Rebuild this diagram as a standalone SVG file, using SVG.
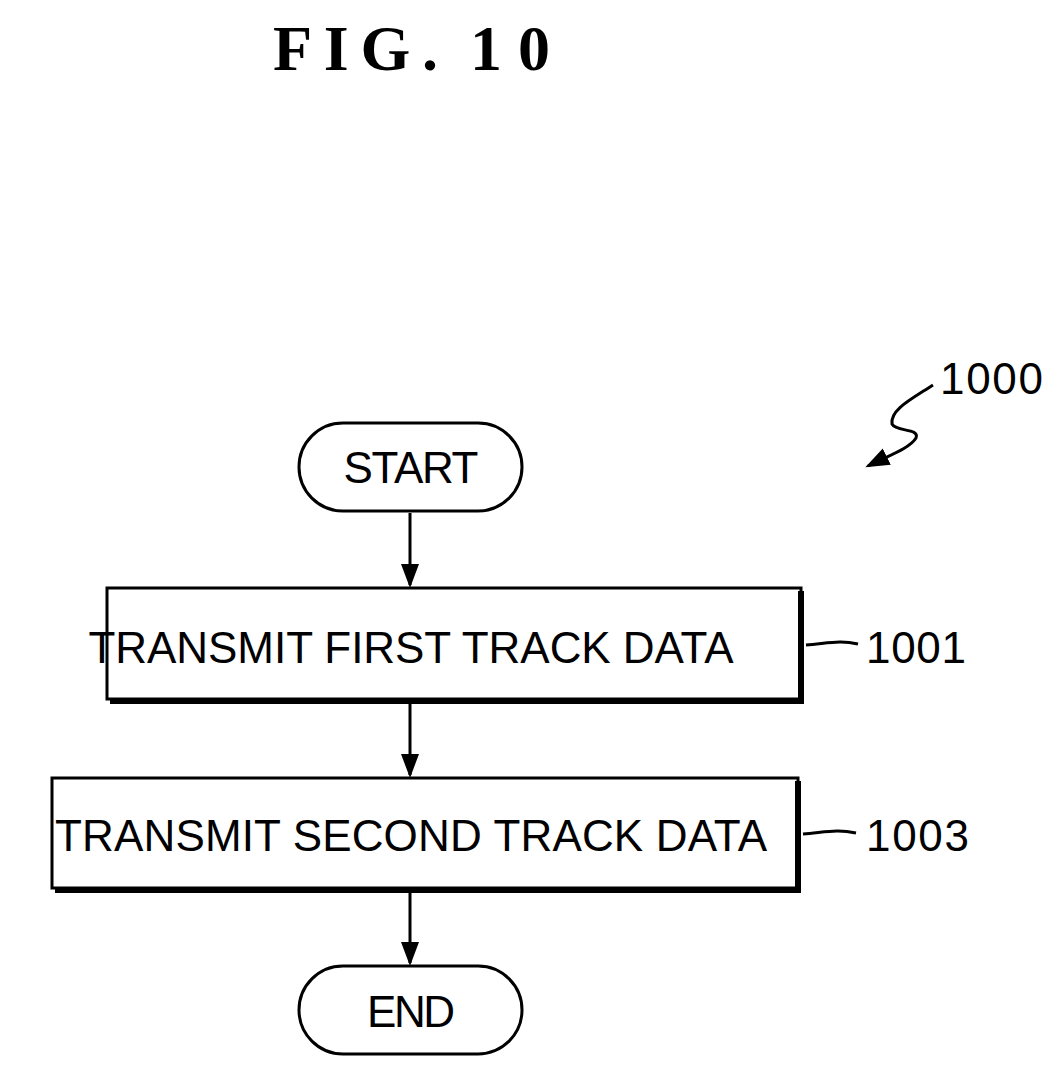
<svg xmlns="http://www.w3.org/2000/svg" width="1063" height="1082" viewBox="0 0 1063 1082">
<defs>
<style>
.b{fill:#fff;stroke:#000;stroke-width:3}
.s{fill:none;stroke:#000;stroke-width:6}
.t{font-family:"Liberation Sans",Arial,sans-serif;font-size:44px;fill:#000;text-anchor:middle}
.l{font-family:"Liberation Sans",Arial,sans-serif;font-size:44px;fill:#000}
.c{fill:none;stroke:#000;stroke-width:3}
</style>
<marker id="a" markerWidth="8" markerHeight="8" refX="7" refY="4" orient="auto" markerUnits="strokeWidth"><path d="M0,1 L8,4 L0,7 Z" fill="#000"/></marker>
</defs>
<rect width="1063" height="1082" fill="#fff"/>
<text y="70" font-family="Liberation Serif,serif" font-weight="bold" font-size="64"><tspan x="273" textLength="165">FIG.</tspan><tspan x="470" textLength="80">10</tspan></text>
<g id="start"><rect class="b" x="299" y="423" width="223" height="88" rx="44"/><text class="t" x="411" y="483" textLength="135">START</text></g>
<g id="n1001"><rect class="b" x="107" y="588" width="694" height="111"/><path class="s" d="M801,591 V701 H110"/><text class="t" x="411" y="663" textLength="645">TRANSMIT FIRST TRACK DATA</text><path class="c" d="M806,645 C830,643 840,640 858,644"/><text class="l" x="866" y="663" textLength="100">1001</text></g>
<g id="n1003"><rect class="b" x="52" y="778" width="746" height="110"/><path class="s" d="M798,781 V890 H55"/><text class="t" x="411" y="851" textLength="712">TRANSMIT SECOND TRACK DATA</text><path class="c" d="M803,834 C827,832 837,829 856,833"/><text class="l" x="866" y="851" textLength="103">1003</text></g>
<g id="end"><rect class="b" x="299" y="966" width="223" height="88" rx="44"/><text class="t" x="411" y="1027" textLength="88">END</text></g>
<g id="ref"><text class="l" x="940" y="394" textLength="103">1000</text><path class="c" d="M933,385 C910,400 890,410 892,424 C896,432 920,428 916,438 C910,448 890,455 868,466" marker-end="url(#a)"/></g>
<g id="connectors">
<line class="c" x1="410" y1="513" x2="410" y2="585" marker-end="url(#a)"/>
<line class="c" x1="410" y1="703" x2="410" y2="775" marker-end="url(#a)"/>
<line class="c" x1="410" y1="892" x2="410" y2="963" marker-end="url(#a)"/>
</g>
</svg>
